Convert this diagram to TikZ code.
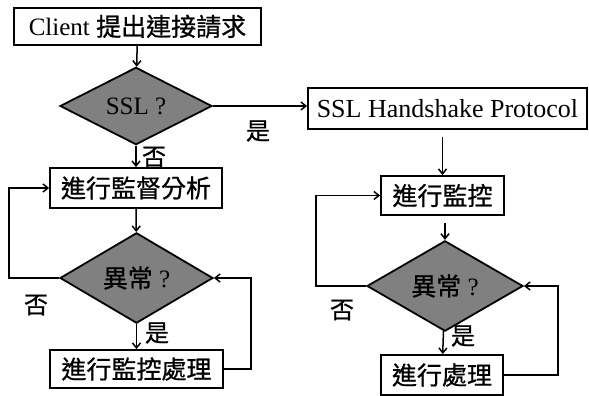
\documentclass[tikz,border=0pt]{standalone}
\usepackage{fontspec}
\setmainfont{Liberation Serif}
\newfontfamily\cjk[FakeBold=0.8]{Noto Sans CJK TC}
\usetikzlibrary{shapes.geometric,arrows.meta}
\definecolor{diagray}{RGB}{128,128,128}
\begin{document}
\begin{tikzpicture}[x=1pt,y=-1pt,
  box/.style={draw, line width=1.8pt, inner sep=0pt, font=\fontsize{25}{25}\selectfont},
  dia/.style={diamond, draw, line width=1.8pt, fill=diagray, inner sep=0pt, font=\fontsize{25}{25}\selectfont},
  arr/.style={line width=1.5pt, -{Straight Barb[length=5pt,width=8pt]}},
  lbl/.style={inner sep=0pt, font=\cjk\fontsize{24}{24}\selectfont}]
\useasboundingbox (0,0) rectangle (589,396);
% left column
\node[box, minimum width=247pt, minimum height=37pt] (client) at (137.5,26.5) {Client {\cjk 提出連接請求}};
\node[dia, minimum width=152pt, minimum height=60pt] (ssl) at (136,106) {SSL ?};
\node[box, minimum width=172pt, minimum height=40pt] (ana) at (136,188) {\cjk 進行監督分析};
\node[dia, minimum width=153pt, minimum height=60pt] (ab1) at (136.5,278) {{\cjk 異常} ?};
\node[box, minimum width=173pt, minimum height=38pt] (proc1) at (136.5,369) {\cjk 進行監控處理};
% right column
\node[box, minimum width=279pt, minimum height=41pt, font=\fontsize{26}{26}\selectfont] (hs) at (447.5,108.5) {SSL Handshake Protocol};
\node[box, minimum width=123pt, minimum height=39pt] (mon2) at (442.5,195.5) {\cjk 進行監控};
\node[dia, minimum width=156pt, minimum height=60pt] (ab2) at (445,286) {{\cjk 異常} ?};
\node[box, minimum width=122pt, minimum height=40pt] (proc2) at (442,375) {\cjk 進行處理};
% labels
\node[lbl] (yes0) at (258,131) {是};
\node[lbl] (no0) at (154,157) {否};
\node[lbl] (no1) at (36,305) {否};
\node[lbl] (yes1) at (157,333) {是};
\node[lbl] (no2) at (342,310) {否};
\node[lbl] (yes2) at (463,336) {是};
% connectors left
\draw[arr] (client) -- (ssl);
\draw[arr] (ssl) -- (ana);
\draw[arr] (ana) -- (ab1);
\draw[arr] (ab1) -- (proc1);
\draw[arr] (ab1.west) -- ++(-50,0) |- (ana.west);
\draw[arr] (proc1.east) -- ++(27,0) |- (ab1.east);
\draw[arr] (ssl.east) -- (ssl.east -| hs.west);
% connectors right
\draw[arr, shorten <=7pt] (hs.south -| mon2) -- (mon2.north);
\draw[arr, shorten <=7pt] (mon2.south -| ab2) -- (ab2.north);
\draw[arr] (ab2) -- (proc2);
\draw[arr] (ab2.west) -- ++(-50,0) |- (mon2.west);
\draw[arr] (proc2.east) -- ++(54,0) |- (ab2.east);
\end{tikzpicture}
\end{document}
